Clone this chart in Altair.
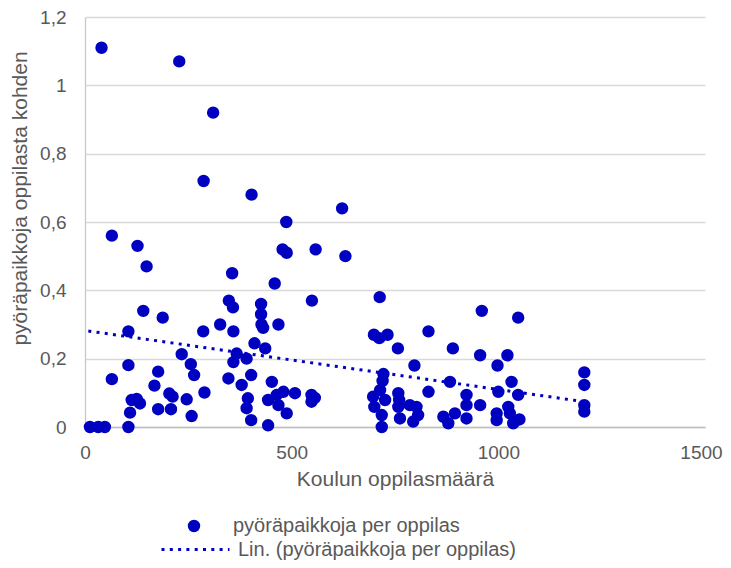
import altair as alt
import pandas as pd

# Koulun oppilasmäärä (x) and pyöräpaikkoja per oppilas (y)
oppilaat = [
    40, 228, 310, 287, 403,
    622, 487, 65, 127, 478, 488, 558, 630, 149, 356, 459,
    713, 549, 348, 358, 426, 426, 141, 188, 960, 1048,
    427, 431, 468, 327, 105, 286, 359, 699, 712, 732, 831,
    410, 436, 757, 890, 956, 1022, 234, 367, 359, 391,
    256, 264, 105, 797, 998, 722, 1208, 1208,
    65, 177, 168, 347, 379, 402, 452, 720, 883, 1032,
    204, 212, 246, 289, 113, 125, 133, 109, 177, 208, 258,
    394, 391, 402, 443, 464, 480, 508, 468, 488, 548, 548, 556,
    714, 697, 726, 700, 718, 718,
    758, 760, 758, 762, 786, 802, 806, 794, 831, 867, 879, 895,
    923, 923, 923, 956, 1000, 1048, 996, 996, 1024, 1028, 1036, 1051,
    1208, 1208,
    12, 32, 48, 105, 443,
]
paikat = [
    1.11, 1.07, 0.92, 0.72, 0.68,
    0.64, 0.60, 0.56, 0.53, 0.52, 0.51, 0.52, 0.50, 0.47, 0.45, 0.42,
    0.38, 0.37, 0.37, 0.35, 0.36, 0.33, 0.34, 0.32, 0.34, 0.32,
    0.30, 0.29, 0.30, 0.30, 0.28, 0.28, 0.28, 0.27, 0.26, 0.27, 0.28,
    0.245, 0.23, 0.23, 0.23, 0.21, 0.21, 0.213, 0.215, 0.19, 0.20,
    0.184, 0.152, 0.181, 0.18, 0.18, 0.155, 0.16, 0.123,
    0.14, 0.162, 0.121, 0.142, 0.123, 0.152, 0.132, 0.135, 0.132, 0.132,
    0.098, 0.089, 0.081, 0.101, 0.079, 0.082, 0.069, 0.042, 0.052, 0.052, 0.032,
    0.084, 0.055, 0.02, 0.079, 0.094, 0.103, 0.099, 0.064, 0.04, 0.094, 0.074, 0.085,
    0.108, 0.089, 0.079, 0.059, 0.035, 0.0,
    0.099, 0.079, 0.059, 0.025, 0.064, 0.059, 0.035, 0.016, 0.103, 0.03, 0.011, 0.04,
    0.094, 0.064, 0.025, 0.064, 0.103, 0.094, 0.04, 0.02, 0.059, 0.04, 0.011, 0.022,
    0.064, 0.045,
    0.0, 0.0, 0.0, 0.0, 0.005,
]

# Linear trend line (Excel "Lin.") end points
trendi_x = [8, 1208]
trendi_y = [0.281, 0.074]

sarja = "pyöräpaikkoja per oppilas"
trendi = "Lin. (pyöräpaikkoja per oppilas)"

x_ticks = [0, 500, 1000, 1500]
y_ticks = [0, 0.2, 0.4, 0.6, 0.8, 1.0, 1.2]

df = pd.DataFrame({"x": oppilaat, "y": paikat})
df["s"] = sarja
dft = pd.DataFrame({"x": trendi_x, "y": trendi_y})
dft["t"] = trendi

blue = "#0000C0"
grey = "#595959"
font = "Liberation Sans"

x_enc = alt.X(
    "x:Q",
    scale=alt.Scale(domain=[0, 1500], nice=False),
    axis=alt.Axis(
        values=x_ticks, format="d", title="Koulun oppilasmäärä", grid=False,
        ticks=False, tickSize=0, labelPadding=16, labelFontSize=19,
        labelColor=grey, labelFont=font, labelFlush=False, labelOverlap=False,
        labelOffset={"condition": {"test": "datum.value >= 1500", "value": -4},
                     "value": 0},
        titleFont=font, titleFontSize=21, titleColor=grey,
        titleFontWeight="normal", titleBaseline="alphabetic", titleY=58,
        titleX=310, domainColor="#BFBFBF", domainWidth=1.5,
    ),
)
y_enc = alt.Y(
    "y:Q",
    scale=alt.Scale(domain=[0, 1.2], nice=False),
    axis=alt.Axis(
        values=y_ticks, title="pyöräpaikkoja oppilasta kohden", grid=True,
        gridColor="#D9D9D9", gridWidth=1.3, ticks=False, tickSize=0,
        labelPadding=19, labelFontSize=19, labelColor=grey, labelFont=font,
        labelExpr="replace(format(datum.value, '.1~f'), '.', ',')",
        titleFont=font, titleFontSize=21, titleColor=grey,
        titleFontWeight="normal", titleX=-65, titleY=181,
        titleBaseline="middle", titleAlign="center", titleAngle=270,
        domainColor="#C8C8C8", domainWidth=1.3,
    ),
)

points = alt.Chart(df).mark_circle(size=154, opacity=1).encode(
    x=x_enc,
    y=y_enc,
    color=alt.Color(
        "s:N",
        scale=alt.Scale(domain=[sarja], range=[blue]),
        legend=alt.Legend(
            title=None, orient="none", legendX=99, legendY=499, padding=0,
            symbolType="circle", symbolSize=154, symbolOpacity=1,
            labelFontSize=20, labelColor=grey, labelFont=font, labelOffset=29,
            labelLimit=0,
        ),
    ),
)

line = (
    alt.Chart(dft)
    .mark_line(color=blue, strokeWidth=3)
    .encode(
        x="x:Q",
        y="y:Q",
        strokeDash=alt.StrokeDash(
            "t:N",
            scale=alt.Scale(domain=[trendi], range=[[3, 5.3]]),
            legend=alt.Legend(
                title=None, orient="none", legendX=75, legendY=497, padding=0,
                symbolType="stroke", symbolSize=4624, symbolStrokeColor=blue,
                symbolStrokeWidth=3, labelFontSize=20, labelColor=grey,
                labelFont=font, labelOffset=7, labelLimit=0,
            ),
        ),
    )
)

chart = (
    alt.layer(line, points)
    .properties(
        width=620,
        height=410,
        autosize=alt.AutoSizeParams(type="none"),
        padding={"left": 77, "top": 9, "right": 18, "bottom": 133},
        background="white",
    )
    .configure_view(stroke=None)
)

chart.save("out.html", embed_options={"renderer": "svg", "actions": False})
